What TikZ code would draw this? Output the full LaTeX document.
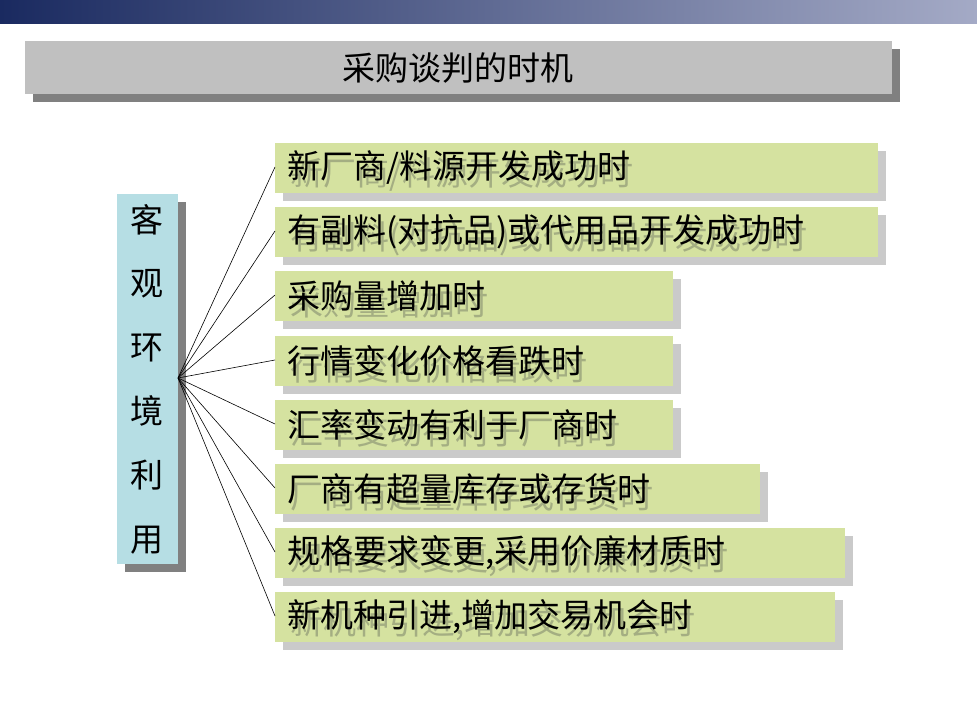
\documentclass[tikz,border=0pt]{standalone}
\usepackage{fontspec}
\setmainfont{Noto Sans CJK SC}
\begin{document}
\begin{tikzpicture}[x=1pt,y=-1pt,
  itembox/.style={fill=boxg,draw=none},
  shad/.style={fill=shg,draw=none},
  txt/.style={anchor=west,inner sep=0pt,font=\fontsize{33}{36}\selectfont},
  fan/.style={draw=black,line width=0.6pt}]
\definecolor{boxg}{HTML}{D5E2A0}
\definecolor{shg}{HTML}{CACACA}
\definecolor{tshadow}{HTML}{A4AE82}
\definecolor{lblue}{HTML}{B6DEE4}
\useasboundingbox (0,0) rectangle (977,703);
\fill[white] (0,0) rectangle (977,703);
\shade[left color={rgb,255:red,26;green,42;blue,96},right color={rgb,255:red,164;green,170;blue,198}] (0,0) rectangle (977,24);
% title
\fill[fill={rgb,255:red,128;green,128;blue,128}] (33,49) rectangle (900,102);
\fill[fill={rgb,255:red,192;green,192;blue,192}] (25,41) rectangle (892,94);
\node[inner sep=0pt,font=\fontsize{33}{36}\selectfont] (title) at (458,68) {采购谈判的时机};
% left box
\fill[fill={rgb,255:red,128;green,128;blue,128}] (125,202) rectangle (186,572);
\fill[lblue] (117,194) rectangle (178,564);
\node[inner sep=0pt,minimum width=61,minimum height=370,anchor=north west] (left) at (117,194) {};
\foreach \c/\y in {客/220,观/284,环/348,境/411,利/475,用/540}
  \node[inner sep=0pt,font=\fontsize{33}{36}\selectfont] at (147,\y) {\c};
\coordinate (hub) at (178,378);
% items
\foreach \i/\t/\r/\txt in {
  1/143/878/{新厂商/料源开发成功时},
  2/207/878/{有副料(对抗品)或代用品开发成功时},
  3/271/673/{采购量增加时},
  4/336/673/{行情变化价格看跌时},
  5/400/673/{汇率变动有利于厂商时},
  6/464/760/{厂商有超量库存或存货时},
  7/528/845/{规格要求变更,采用价廉材质时},
  8/592/835/{新机种引进,增加交易机会时}}{
  \fill[shg] (283,\t+8) rectangle (\r+8,\t+58);
  \fill[boxg] (275,\t) rectangle (\r,\t+50);
  \coordinate (b\i) at (275,\t+24);
  \node[txt,text=tshadow] at (290,\t+32) {\txt};
  \node[txt] (n\i) at (287,\t+25) {\txt};
  \draw[fan] (hub) -- (b\i);
}
\end{tikzpicture}
\end{document}
